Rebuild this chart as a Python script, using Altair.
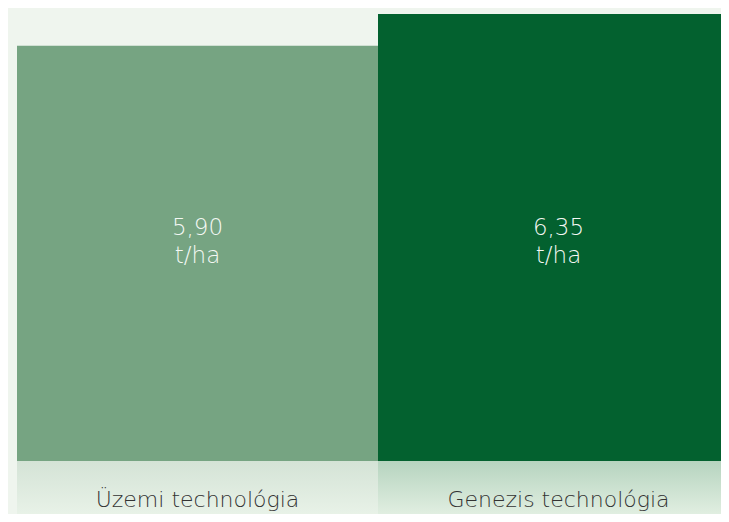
import altair as alt
import pandas as pd

categories = ["Üzemi technológia", "Genezis technológia"]
values = [5.90, 6.35]
value_labels = ["5,90\nt/ha", "6,35\nt/ha"]
bar_colors = ["#76a482", "#03612f"]
grad_left = ["#d4e3d6", "#ebf4ea"]
grad_right = ["#b6d4bf", "#e7f2e6"]

df = pd.DataFrame({"cat": categories, "value": values, "label": value_labels})

xscale = alt.Scale(domain=categories, range=[9, 731], paddingInner=0, paddingOuter=0)
X = alt.X("cat:N", scale=xscale, axis=None)

base = alt.Chart(df)

bars = base.mark_bar(strokeWidth=0).encode(
    x=X,
    y=alt.Y("value:Q", scale=alt.Scale(domain=[0, 6.35], range=[453, 6], nice=False, zero=True), axis=None),
    color=alt.Color("cat:N", scale=alt.Scale(domain=categories, range=bar_colors), legend=None),
)

def grad(stops):
    return alt.Gradient(
        gradient="linear",
        stops=[alt.GradientStop(color=stops[0], offset=0), alt.GradientStop(color=stops[1], offset=1)],
        x1=0, x2=0, y1=0, y2=1,
    )

g1 = base.transform_filter(alt.datum.cat == categories[0]).mark_rect(color=grad(grad_left), strokeWidth=0).encode(
    x=X, y=alt.value(453), y2=alt.value(514)
)
g2 = base.transform_filter(alt.datum.cat == categories[1]).mark_rect(color=grad(grad_right), strokeWidth=0).encode(
    x=X, y=alt.value(453), y2=alt.value(514)
)

vals = base.mark_text(
    color="#f4f8f4", font="DejaVu Sans", fontWeight=200, fontSize=23, lineBreak="\n", lineHeight=28, baseline="alphabetic"
).encode(x=X, y=alt.value(227), text="label:N")

cats = base.mark_text(
    color="#333333", font="DejaVu Sans", fontWeight=200, fontSize=22, baseline="alphabetic"
).encode(x=X, y=alt.value(499), text="cat:N")

chart = alt.layer(bars, g1, g2, vals, cats).properties(
    width=713, height=506, autosize=alt.AutoSizeParams(type="none"), padding=0, background="#eff5ee"
).configure_view(stroke=None)

chart.save("out.html", embed_options={"renderer": "svg", "actions": False})
